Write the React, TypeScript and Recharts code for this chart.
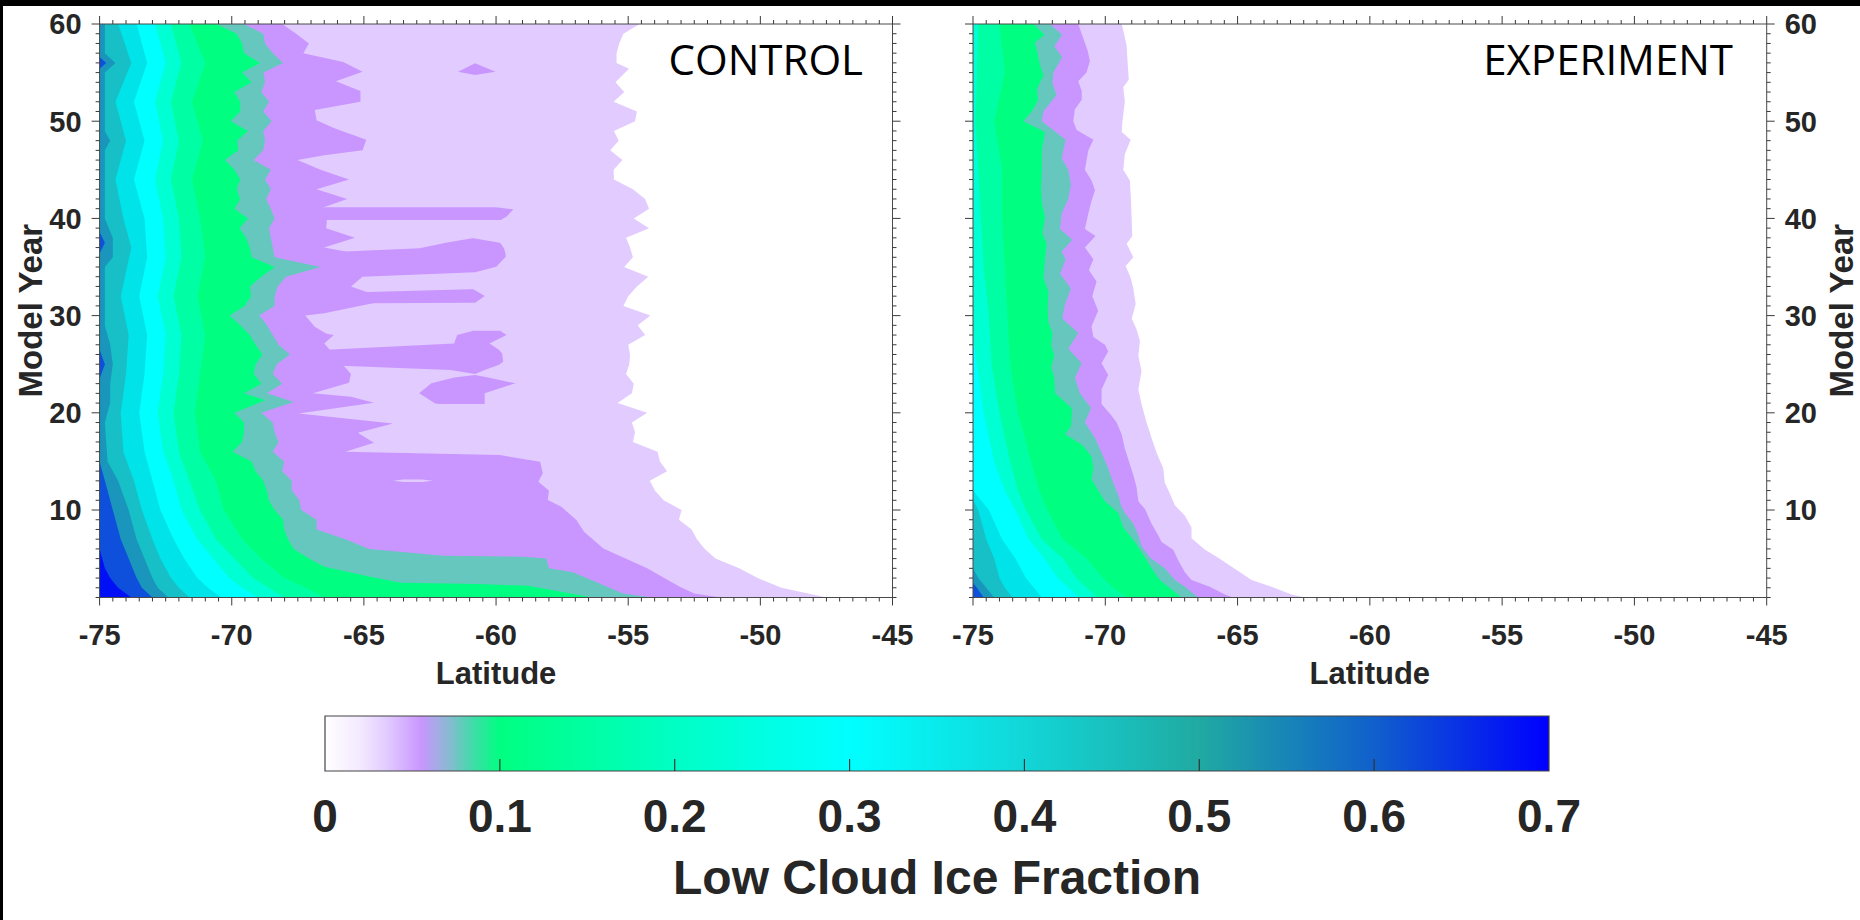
import React from 'react';
import { ComposedChart, Area, XAxis, YAxis, ReferenceArea } from 'recharts';

type Pt = [number, number];
type Rg = [number, number, number];

// ---------------- axes / ticks ----------------
const LAT_MIN = -75;
const LAT_MAX = -45;
const YEAR_MIN = 1;
const YEAR_MAX = 60;
const latMajorTicks = [-75, -70, -65, -60, -55, -50, -45];
const latMinorTicks: number[] = [];
for (let i = 0; i <= 60; i++) latMinorTicks.push(LAT_MIN + i * 0.5);
const yearMajorTicks = [10, 20, 30, 40, 50, 60];
const yearMinorTicks: number[] = [];
for (let v = YEAR_MIN; v <= YEAR_MAX; v++) yearMinorTicks.push(v);
const colorbarTicks = [0, 0.1, 0.2, 0.3, 0.4, 0.5, 0.6, 0.7];
const colorbarTitle = 'Low Cloud Ice Fraction';

// ---------------- CONTROL: contour edges [year, latitude] ----------------
const ctrlLilacEdge: Pt[] = [
  [60, -54.57], [59, -55.18], [58, -55.34], [57, -55.44], [56, -55.44], [55.4, -54.97], [54, -55.48], [53, -55.15],
  [52, -55.55], [51, -54.67], [50, -54.74], [49, -55.54], [48, -55.36], [47, -55.68], [46, -55.22], [45, -55.55],
  [44, -55.54], [43, -54.82], [42, -54.36], [41, -54.21], [40, -54.79], [39, -54.21], [38, -55.08], [37, -54.93],
  [36, -54.82], [35, -55.15], [34, -54.24], [33, -54.67], [32, -55.0], [31, -55.18], [30, -54.16], [29, -54.64],
  [28, -54.36], [27, -55.0], [26, -54.93], [25, -54.96], [24, -55.08], [23, -54.79], [22, -54.86], [21, -55.4],
  [20, -54.28], [19, -54.86], [18, -54.74], [17, -54.82], [16, -53.89], [15, -53.8], [14, -53.53], [13, -54.18],
  [12, -53.99], [11, -53.66], [10, -52.98], [9, -53.08], [8, -52.6], [7, -52.4], [6, -52.1], [5, -51.7],
  [4, -50.8], [3, -50.1], [2, -49.2], [1, -47.5],
];
const ctrlPurpleEdge: Pt[] = [
  [60, -68.09], [58.9, -67.51], [58, -67.08], [57, -67.29], [56.1, -65.78], [55.1, -65.05], [54.1, -66.06], [53.1, -65.13],
  [52, -65.13], [51.15, -66.86], [50.1, -66.79], [49.3, -66.14], [48.1, -64.91], [47, -65.05], [46.5, -66.5], [46, -67.51],
  [45, -66.64], [44, -65.56], [43, -66.79], [42, -65.63], [41.1, -66.57], [39.75, -66.4], [39, -66.43], [38, -65.34],
  [37, -66.5], [36.5, -65.5], [35, -66.0], [34, -65.05], [33, -65.49], [32.3, -64.76], [31.3, -64.62], [30.24, -66.5],
  [30, -67.22], [28.86, -66.86], [28.17, -66.43], [28, -66.14], [27.14, -66.5], [24, -65.49], [23.1, -65.56], [22, -66.93],
  [21.66, -65.49], [21.04, -64.62], [19.94, -67.47], [18.91, -63.9], [17.95, -65.23], [16.92, -64.62], [16, -65.7],
  [15.65, -59.85], [14.97, -58.33], [13.77, -58.23], [12.91, -58.4], [12, -58.0], [11.02, -58.04], [10.34, -57.53],
  [8.97, -56.96], [7.77, -56.67], [6.05, -55.94], [4, -54.28], [2.11, -53.05], [1.42, -52.5], [1, -51.5],
];
const ctrlPurpleIslands: Rg[][] = [
  [[55.95, -60.79, -60.79], [55.1, -61.44, -60.02], [54.75, -60.79, -60.79]],
  [[41.15, -66.6, -60.0], [40.93, -66.6, -59.34], [40.2, -66.6, -59.6], [39.83, -66.6, -59.82]],
  [[37.95, -60.9, -60.86], [37.5, -61.9, -59.85], [36.92, -62.89, -59.7], [36.5, -66.6, -59.65], [36.06, -66.6, -59.63],
   [35.03, -66.6, -59.99], [34.45, -66.6, -60.79], [34.0, -66.6, -65.05]],
  [[32.7, -61.0, -60.86], [32.29, -66.6, -60.6], [32.02, -66.6, -60.43], [31.33, -66.6, -60.79], [31.26, -66.6, -64.62]],
  [[28.45, -60.86, -59.85], [28.0, -61.47, -59.6], [27.14, -61.59, -60.25], [26.46, -66.6, -59.88], [26.11, -66.6, -59.77],
   [25.26, -66.6, -59.73], [24.91, -66.6, -59.9], [24.4, -61.73, -60.43], [23.99, -60.79, -60.79]],
  [[23.88, -60.79, -60.79], [23.64, -61.58, -60.3], [23.03, -62.45, -59.27], [22.0, -62.91, -60.43], [20.97, -62.3, -60.43],
   [20.9, -62.16, -60.43]],
];
const ctrlLilacHoles: Rg[][] = [
  [[13.15, -63.5, -62.8], [13.02, -63.9, -62.4], [12.88, -63.5, -62.8]],
];
const ctrlTealEdge: Pt[] = [
  [60, -69.54], [59, -68.81], [58, -68.74], [57, -68.45], [56, -68.06], [55, -68.8], [54, -68.74], [53, -68.88],
  [52, -68.59], [51, -68.81], [50, -68.49], [49, -68.81], [48, -68.74], [47, -68.81], [46, -69.17], [45, -68.52],
  [44, -68.74], [43, -68.52], [42, -68.7], [41, -68.52], [40, -68.38], [39, -68.59], [38, -68.52], [37, -68.45],
  [36, -68.38], [35, -66.64], [34, -67.95], [33, -68.26], [32, -68.38], [31, -68.38], [30, -68.96], [29, -68.67],
  [28, -68.45], [27, -68.23], [26, -67.8], [25, -68.3], [24, -68.45], [23, -68.09], [22, -68.67], [21.1, -67.66],
  [20, -68.88], [19, -68.45], [18, -68.38], [17, -68.23], [16, -68.45], [15, -68.02], [14, -68.09], [13, -67.73],
  [12, -67.73], [11, -67.44], [10, -67.37], [9, -66.79], [8, -66.79], [7, -65.7], [6, -64.8], [5.3, -62.0],
  [5.2, -59.0], [5, -58.1], [4, -58.0], [3.6, -57.1], [2.8, -56.4], [1.4, -55.2], [1, -54.1],
];
const ctrlGreenEdge: Pt[] = [
  [60, -70.58], [59, -69.82], [58, -69.61], [57, -69.54], [56, -68.93], [55, -69.61], [54, -69.25], [53, -69.9],
  [52, -69.68], [51, -69.68], [50, -70.04], [49, -69.39], [48, -69.8], [47, -69.75], [46, -70.26], [45, -69.9],
  [44, -69.68], [43, -69.82], [42, -69.68], [41, -69.9], [40, -69.39], [39, -69.71], [38, -69.46], [37, -69.32],
  [36, -69.25], [35, -68.38], [34, -68.88], [33, -69.32], [32, -69.27], [31, -69.51], [30, -70.08], [29, -69.68],
  [28, -69.32], [27, -69.1], [26, -68.84], [25, -69.1], [24, -69.17], [23, -68.88], [22, -69.54], [21.3, -68.74],
  [20, -69.9], [19, -69.54], [18, -69.54], [17, -69.61], [16, -69.97], [15, -69.25], [14, -69.1], [13, -68.81],
  [12, -68.67], [11, -68.6], [10, -68.38], [9, -68.06], [8, -68.02], [7, -67.87], [6, -67.66], [5, -67.08],
  [4.17, -66.5], [3.14, -64.76], [2.52, -63.6], [2.4, -60.7], [2.2, -58.8], [1.08, -56.5], [1, -56.5],
];
const ctrlLevels: Pt[][] = [
  [[60, -71.6], [56, -71.0], [52, -71.5], [48, -71.1], [44, -71.5], [40, -71.2], [36, -71.0], [32, -71.3], [28, -71.0],
   [24, -71.2], [20, -71.4], [16, -71.2], [13, -70.6], [10, -70.3], [7, -69.6], [5, -68.9], [3, -68.0], [2, -67.2], [1, -66.5]],
  [[60, -72.3], [56, -71.9], [52, -72.3], [48, -72.0], [44, -72.3], [40, -72.0], [36, -71.9], [32, -72.2], [28, -71.9],
   [24, -72.0], [20, -72.2], [16, -72.0], [13, -71.6], [10, -71.2], [7, -70.6], [5, -69.9], [3, -69.2], [2, -68.6], [1, -68.0]],
  [[60, -72.9], [56, -72.5], [52, -72.9], [48, -72.6], [44, -72.9], [40, -72.6], [36, -72.5], [32, -72.8], [28, -72.5],
   [24, -72.6], [20, -72.8], [16, -72.6], [13, -72.2], [10, -71.9], [7, -71.3], [5, -70.7], [3, -70.1], [2, -69.6], [1, -69.0]],
  [[60, -73.6], [56, -73.2], [52, -73.7], [48, -73.3], [44, -73.7], [40, -73.3], [36, -73.2], [32, -73.5], [28, -73.2],
   [24, -73.3], [20, -73.5], [16, -73.3], [13, -73.0], [10, -72.7], [7, -72.2], [5, -71.8], [3, -71.3], [2, -70.9], [1, -70.4]],
  [[60, -74.3], [56, -73.8], [52, -74.4], [48, -74.0], [44, -74.4], [40, -74.1], [37, -73.8], [32, -74.2], [28, -73.9],
   [24, -74.0], [20, -74.2], [16, -74.1], [13, -73.7], [10, -73.4], [7, -73.0], [5, -72.7], [3, -72.3], [2, -72.0], [1, -71.6]],
  [[60, -74.8], [57, -74.8], [56, -74.4], [55, -74.8], [49, -74.8], [48, -74.6], [47, -74.8], [40, -74.8], [38, -74.5],
   [36, -74.5], [35, -74.8], [29, -74.8], [27, -74.6], [25, -74.5], [23, -74.6], [21, -74.6], [19, -74.8], [15, -74.7],
   [13, -74.3], [10, -73.9], [7, -73.6], [5, -73.3], [3, -73.0], [2, -72.8], [1, -72.4]],
  [[15, -75], [13, -74.8], [10, -74.5], [7, -74.2], [5, -73.9], [3, -73.6], [2, -73.4], [1, -73.0]],
  [[6, -75], [4, -74.8], [3, -74.6], [2, -74.3], [1, -73.8]],
];
const ctrlBlueSpots: Rg[][] = [
  [[56.6, -75, -75], [56, -75, -74.75], [55.4, -75, -75]],
  [[38.6, -75, -75], [37.5, -75, -74.8], [36.4, -75, -75]],
  [[26.5, -75, -75], [25, -75, -74.8], [23.5, -75, -75]],
];

// ---------------- EXPERIMENT: contour edges [year, latitude] ----------------
const expLilacEdge: Pt[] = [
  [60, -69.38], [58.9, -69.28], [57.7, -69.19], [56.2, -69.16], [54.3, -69.11], [53.5, -69.32], [52, -69.26], [50, -69.35],
  [48.9, -69.38], [48.1, -69.04], [46.6, -69.26], [45, -69.32], [43.9, -69.07], [42, -69.03], [40.5, -69.01], [38.2, -68.98],
  [37.4, -69.19], [36, -68.94], [35.1, -69.23], [33.9, -69.04], [32.8, -68.94], [31.2, -68.85], [29.7, -69.0], [28.6, -68.82],
  [27.4, -68.69], [25.9, -68.75], [24.3, -68.63], [22.4, -68.75], [20.9, -68.63], [19, -68.44], [17.4, -68.25], [15.9, -68.06],
  [14.3, -67.81], [12.8, -67.75], [11.7, -67.56], [10.5, -67.37], [9.4, -66.99], [8.2, -66.74], [7.1, -66.74], [5.9, -66.23],
  [5.1, -65.73], [4.4, -65.35], [3.6, -64.91], [2.8, -64.47], [2.1, -63.72], [1.3, -62.96], [1, -62.46],
];
const expPurpleEdge: Pt[] = [
  [60, -71.02], [58.5, -70.83], [57.3, -70.67], [56.2, -70.58], [55, -70.71], [54.1, -71.02], [53.1, -70.89], [52.2, -70.89],
  [51.2, -71.15], [50, -71.21], [49.1, -71.08], [48.1, -70.45], [47, -70.64], [45, -70.77], [43.9, -70.52], [42.9, -70.39],
  [41.6, -70.54], [40.5, -70.64], [38.9, -70.77], [38.2, -70.37], [37, -70.77], [35.8, -70.45], [34.7, -70.62], [33.5, -70.33],
  [32, -70.49], [30.5, -70.27], [28.9, -70.52], [27.8, -70.45], [27, -70.01], [26.3, -69.89], [25.1, -70.14], [23.9, -69.89],
  [22.4, -70.14], [20.9, -70.14], [19.7, -69.76], [19, -69.57], [17.8, -69.38], [16.3, -69.26], [14.7, -69.07], [13.6, -68.94],
  [12.4, -68.82], [10.9, -68.75], [10.1, -68.5], [8.6, -68.25], [7.4, -68.0], [6.7, -67.87], [5.9, -67.43], [4.8, -67.24],
  [3.6, -66.99], [2.8, -66.74], [2.1, -66.05], [1.3, -65.48], [1, -65.17],
];
const expTealEdge: Pt[] = [
  [60, -72.09], [58.9, -71.63], [57.7, -71.93], [56.6, -71.63], [55, -71.96], [53.9, -72.0], [52.7, -71.84], [51, -72.34],
  [50, -72.4], [48.1, -71.5], [46.2, -71.65], [45, -71.4], [43.5, -71.3], [42, -71.4], [40.5, -71.65], [38.9, -71.71],
  [37.8, -71.25], [36.6, -71.65], [35.8, -71.5], [34.3, -71.71], [32.8, -71.3], [31.2, -71.52], [29.7, -71.63], [28.2, -71.02],
  [26.6, -71.4], [25.1, -70.89], [23.6, -71.15], [22, -70.96], [20.5, -70.54], [19, -70.77], [17.4, -70.39], [15.9, -70.14],
  [14.3, -69.89], [12.8, -69.7], [11.3, -69.48], [10.5, -69.41], [9.7, -69.26], [8.6, -68.94], [7.4, -68.75], [6.3, -68.63],
  [5.1, -68.31], [4, -67.75], [2.8, -67.37], [2.1, -66.99], [1, -66.49],
];
const expGreenEdge: Pt[] = [
  [60, -72.72], [58.9, -72.3], [58.1, -72.66], [57, -72.56], [55.8, -72.47], [54.7, -72.34], [53.3, -72.59], [52.2, -72.53],
  [51, -72.78], [50, -73.1], [48.9, -72.28], [47, -72.4], [45, -72.4], [43.1, -72.43], [41.6, -72.4], [40.1, -72.28],
  [38.5, -72.38], [37.4, -72.22], [35.8, -72.28], [33.9, -72.34], [32.4, -72.15], [30.9, -72.18], [29.3, -72.15], [28.2, -72.0],
  [27, -72.05], [25.9, -71.93], [24.7, -72.05], [23.6, -71.93], [22, -71.9], [20.5, -71.27], [19.7, -71.27], [18.6, -71.3],
  [17.8, -71.52], [16.7, -70.87], [15.5, -70.52], [14.3, -70.45], [13.2, -70.52], [12, -70.27], [10.9, -70.01], [9.7, -69.51],
  [8.2, -69.32], [6.7, -68.88], [5.1, -68.5], [4, -68.25], [2.8, -67.94], [2.1, -67.62], [1, -67.12],
];
const expLevels: Pt[][] = [
  [[60, -74.0], [55, -73.8], [50, -74.2], [45, -73.9], [40, -73.9], [35, -73.8], [30, -73.7], [25, -73.6], [20, -73.3],
   [15, -72.8], [12, -72.5], [10, -72.2], [7, -71.6], [5, -70.7], [3, -70.1], [2, -69.7], [1, -69.2]],
  [[60, -74.8], [50, -74.9], [45, -74.8], [40, -74.7], [35, -74.6], [30, -74.4], [25, -74.3], [20, -74.0], [15, -73.6],
   [12, -73.3], [10, -73.0], [7, -72.4], [5, -71.6], [3, -71.1], [2, -70.7], [1, -70.3]],
  [[28, -75], [24, -74.8], [20, -74.6], [15, -74.2], [12, -73.8], [10, -73.4], [7, -72.9], [5, -72.3], [3, -71.8], [2, -71.4], [1, -71.0]],
  [[12, -75], [10, -74.4], [7, -73.9], [5, -73.4], [3, -73.0], [2, -72.7], [1, -72.4]],
  [[11, -75], [10, -74.8], [7, -74.5], [5, -74.2], [3, -74.0], [2, -73.8], [1, -73.5]],
  [[4, -75], [3, -74.8], [2, -74.5], [1, -74.2]],
  [[2.5, -75], [2, -74.85], [1, -74.6]],
];

// ---------------- colours ----------------
const C_LILAC = '#E2CCFF';
const C_PURPLE = '#C996FF';
const C_TEAL = '#66C7BE';
const C_GREEN = '#00FF80';
const levelColors = ['#00FFA4', '#00FFD2', '#00FFFF', '#00E3E8', '#17C0C6', '#1A96BC', '#0E50DC', '#0010F6'];
const FONT = "'Liberation Sans', Arial, Helvetica, sans-serif";
const TICK_COLOR = '#3a3a3a';
const AXIS_COLOR = '#4a4a4a';
const LABEL_COLOR = '#262626';

type Layer = { key: string; rows: any[]; color: string };
const fullLayer = (key: string, pts: Pt[], color: string): Layer => ({
  key,
  color,
  rows: [...pts].sort((a, b) => a[0] - b[0]).map(([year, lat]) => ({ year, [key]: [LAT_MIN, lat] })),
});
const rangeLayer = (key: string, pts: Rg[], color: string): Layer => ({
  key,
  color,
  rows: [...pts].sort((a, b) => a[0] - b[0]).map(([year, a, b]) => ({ year, [key]: [a, b] })),
});

const controlLayers: Layer[] = [
  fullLayer('c_lilac', ctrlLilacEdge, C_LILAC),
  fullLayer('c_purple', ctrlPurpleEdge, C_PURPLE),
  ...ctrlPurpleIslands.map((p, i) => rangeLayer(`c_pis${i}`, p, C_PURPLE)),
  ...ctrlLilacHoles.map((p, i) => rangeLayer(`c_lh${i}`, p, C_LILAC)),
  fullLayer('c_teal', ctrlTealEdge, C_TEAL),
  fullLayer('c_green', ctrlGreenEdge, C_GREEN),
  ...ctrlLevels.map((p, i) => fullLayer(`c_lv${i}`, p, levelColors[i])),
  ...ctrlBlueSpots.map((p, i) => rangeLayer(`c_bs${i}`, p, levelColors[6])),
];
const experimentLayers: Layer[] = [
  fullLayer('e_lilac', expLilacEdge, C_LILAC),
  fullLayer('e_purple', expPurpleEdge, C_PURPLE),
  fullLayer('e_teal', expTealEdge, C_TEAL),
  fullLayer('e_green', expGreenEdge, C_GREEN),
  ...expLevels.map((p, i) => fullLayer(`e_lv${i}`, p, levelColors[i])),
];

// ---------------- tick renderers ----------------
const latTick = (side: 'top' | 'bottom', labels: boolean) => (p: any) => {
  const { x, y, payload } = p;
  const v = Number(payload.value);
  const major = latMajorTicks.some((m) => Math.abs(m - v) < 1e-6);
  const len = major ? 8 : 4;
  const d = side === 'bottom' ? 1 : -1;
  return (
    <g>
      <line x1={x} y1={y} x2={x} y2={y + d * len} stroke={TICK_COLOR} strokeWidth={1} />
      {labels && major ? (
        <text x={x} y={y + 47} textAnchor="middle" fontFamily={FONT} fontSize={29} fontWeight="bold" fill={LABEL_COLOR}>
          {String(v)}
        </text>
      ) : null}
    </g>
  );
};
const yearTick = (side: 'left' | 'right', labels: boolean) => (p: any) => {
  const { x, y, payload } = p;
  const v = Number(payload.value);
  const major = yearMajorTicks.includes(v);
  const len = major ? 8 : 4;
  const d = side === 'left' ? -1 : 1;
  return (
    <g>
      <line x1={x} y1={y} x2={x + d * len} y2={y} stroke={TICK_COLOR} strokeWidth={1} />
      {labels && major ? (
        <text x={x + d * 18} y={y + 10.4} textAnchor={side === 'left' ? 'end' : 'start'} fontFamily={FONT} fontSize={29}
          fontWeight="bold" fill={LABEL_COLOR}>
          {String(v)}
        </text>
      ) : null}
    </g>
  );
};
const cbTick = (p: any) => {
  const { x, y, payload } = p;
  const v = Number(payload.value);
  const inner = v > 0.001 && v < 0.699;
  return (
    <g>
      {inner ? <line x1={x} y1={y} x2={x} y2={y - 12} stroke="#333" strokeWidth={1.2} /> : null}
      <text x={x} y={y + 61} textAnchor="middle" fontFamily={FONT} fontSize={46} fontWeight="bold" fill={LABEL_COLOR}>
        {String(v)}
      </text>
    </g>
  );
};

const CHART_H = 720;
const PLOT_TOP = 24;
const PLOT_BOTTOM = 597.5;
const AX = 1; // thickness reserved by each axis

function Panel(props: { layers: Layer[]; boxLeft: number; chartWidth: number; plotLeft: number; plotRight: number; labelSide: 'left' | 'right' }) {
  const { layers, boxLeft, chartWidth, plotLeft, plotRight, labelSide } = props;
  return (
    <div style={{ position: 'absolute', left: boxLeft, top: 0 }}>
      <ComposedChart
        width={chartWidth}
        height={CHART_H}
        layout="vertical"
        margin={{
          top: PLOT_TOP - AX,
          bottom: CHART_H - PLOT_BOTTOM - AX,
          left: plotLeft - boxLeft - AX,
          right: boxLeft + chartWidth - plotRight - AX,
        }}
      >
        {layers.map((l) => (
          <Area
            key={l.key}
            data={l.rows}
            dataKey={l.key}
            xAxisId="b"
            yAxisId="l"
            type="linear"
            stroke="none"
            fill={l.color}
            fillOpacity={1}
            dot={false}
            activeDot={false}
            isAnimationActive={false}
          />
        ))}
        <XAxis xAxisId="b" type="number" orientation="bottom" domain={[LAT_MIN, LAT_MAX]} allowDataOverflow ticks={latMinorTicks}
          interval={0} height={AX} tickSize={0} tickMargin={0} tickLine={false} axisLine={{ stroke: AXIS_COLOR }}
          tick={latTick('bottom', true)}
          label={{ value: 'Latitude', position: 'bottom', offset: 63, fontSize: 31, fontWeight: 'bold', fontFamily: FONT, fill: LABEL_COLOR }} />
        <XAxis xAxisId="t" type="number" orientation="top" domain={[LAT_MIN, LAT_MAX]} allowDataOverflow ticks={latMinorTicks}
          interval={0} height={AX} tickSize={0} tickMargin={0} tickLine={false} axisLine={{ stroke: AXIS_COLOR }}
          tick={latTick('top', false)} />
        <YAxis yAxisId="l" type="number" dataKey="year" orientation="left" domain={[YEAR_MIN, YEAR_MAX]} reversed allowDataOverflow
          ticks={yearMinorTicks} interval={0} width={AX} tickSize={0} tickMargin={0} tickLine={false} axisLine={{ stroke: AXIS_COLOR }}
          tick={yearTick('left', labelSide === 'left')} />
        <YAxis yAxisId="r" type="number" dataKey="year" orientation="right" domain={[YEAR_MIN, YEAR_MAX]} reversed allowDataOverflow
          ticks={yearMinorTicks} interval={0} width={AX} tickSize={0} tickMargin={0} tickLine={false} axisLine={{ stroke: AXIS_COLOR }}
          tick={yearTick('right', labelSide === 'right')} />
      </ComposedChart>
    </div>
  );
}

export default function App() {
  return (
    <div style={{ position: 'absolute', left: 0, top: 0, width: 1860, height: 920, background: '#fff', overflow: 'hidden' }}>
      <Panel layers={controlLayers} boxLeft={0} chartWidth={950} plotLeft={99.6} plotRight={892.5} labelSide="left" />
      <Panel layers={experimentLayers} boxLeft={900} chartWidth={960} plotLeft={973} plotRight={1766.7} labelSide="right" />

      <div style={{ position: 'absolute', left: 0, top: 700 }}>
        <ComposedChart width={1860} height={220} data={colorbarTicks.map((v) => ({ v }))} margin={{ top: 16, bottom: 149 - AX, left: 325, right: 311 }}>
          <defs>
            <linearGradient id="cbGrad" x1="0" y1="0" x2="1" y2="0">
              <stop offset="0" stopColor="#FFFFFF" />
              <stop offset="0.0286" stopColor="#F3EAFF" />
              <stop offset="0.05" stopColor="#E2CCFF" />
              <stop offset="0.0786" stopColor="#C996FF" />
              <stop offset="0.1" stopColor="#8CB8D4" />
              <stop offset="0.121" stopColor="#40DCA8" />
              <stop offset="0.1429" stopColor="#00FF80" />
              <stop offset="0.2857" stopColor="#00FFC4" />
              <stop offset="0.4286" stopColor="#00FFFF" />
              <stop offset="0.5714" stopColor="#12D6D8" />
              <stop offset="0.7143" stopColor="#20AAA2" />
              <stop offset="0.857" stopColor="#1060CC" />
              <stop offset="1" stopColor="#0000FF" />
            </linearGradient>
          </defs>
          <ReferenceArea xAxisId="c" yAxisId="c" x1={0} x2={0.7} y1={0} y2={1} fill="url(#cbGrad)" fillOpacity={1}
            stroke="#444" strokeWidth={1.2} ifOverflow="visible" />
          <XAxis xAxisId="c" type="number" dataKey="v" domain={[0, 0.7]} allowDataOverflow ticks={colorbarTicks} interval={0}
            height={AX} tickSize={0} tickMargin={0} tickLine={false} axisLine={false} tick={cbTick}
            label={{ value: colorbarTitle, position: 'bottom', offset: 88, fontSize: 48, fontWeight: 'bold', fontFamily: FONT, fill: LABEL_COLOR }} />
          <YAxis yAxisId="c" type="number" domain={[0, 1]} allowDataOverflow hide />
        </ComposedChart>
      </div>

      <svg width={1860} height={920} style={{ position: 'absolute', left: 0, top: 0, pointerEvents: 'none' }}>
        <text transform="translate(41.5,310.7) rotate(-90)" textAnchor="middle" fontFamily={FONT} fontSize={33} fontWeight="bold" fill={LABEL_COLOR}>
          Model Year
        </text>
        <text transform="translate(1853,310.7) rotate(-90)" textAnchor="middle" fontFamily={FONT} fontSize={33} fontWeight="bold" fill={LABEL_COLOR}>
          Model Year
        </text>
        <text x={863} y={75.4} textAnchor="end" fontFamily="'Open Sans', 'Noto Sans', sans-serif" fontSize={42} fill="#000">
          CONTROL
        </text>
        <text x={1733} y={75.4} textAnchor="end" fontFamily="'Open Sans', 'Noto Sans', sans-serif" fontSize={42} fill="#000">
          EXPERIMENT
        </text>
      </svg>

      <div style={{ position: 'absolute', left: 0, top: 0, width: 1860, height: 6, background: '#000' }} />
      <div style={{ position: 'absolute', left: 0, top: 0, width: 3, height: 920, background: '#000' }} />
    </div>
  );
}
